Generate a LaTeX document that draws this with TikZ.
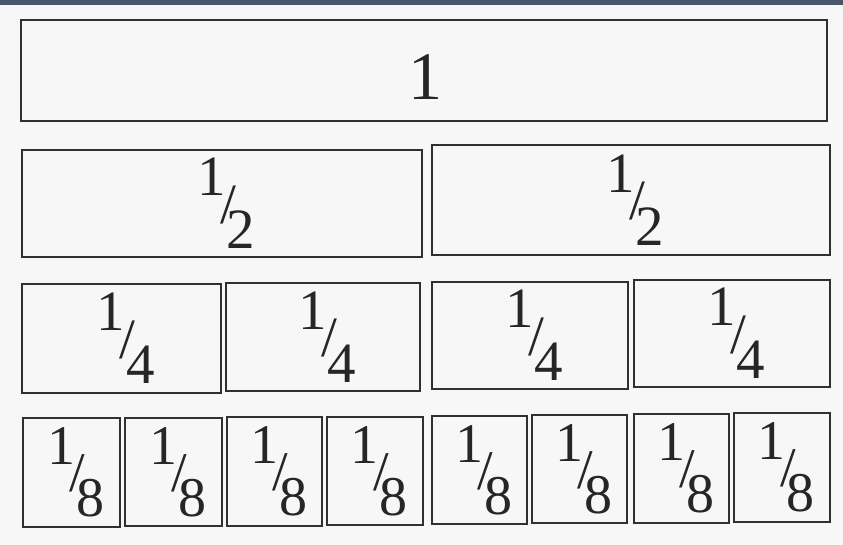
\documentclass[tikz,border=0pt]{standalone}
\usepackage{fontspec}
\setmainfont{Liberation Serif}
\newcommand{\nfr}[2]{\raisebox{0.93em}{#1}\kern-0.1em\raisebox{0.45em}{/}\kern-0.16em#2\kern-0.15em}
\newcommand{\fbx}[7]{\node[bar,minimum width={#4-#2},minimum height={#5-#3}] (#1) at ({(#2+#4)/2},{(#3+#5)/2}) {#6#7};}
\definecolor{topbar}{RGB}{74,86,106}
\definecolor{ink}{RGB}{38,38,38}
\definecolor{edge}{RGB}{48,48,48}
\begin{document}
\begin{tikzpicture}[x=1pt,y=-1pt,
  bar/.style={draw=edge,line width=2.6pt,inner sep=0pt,text=ink},
]
\fill[white!97!black] (0,0) rectangle (843,545);
\useasboundingbox (0,0) rectangle (843,545);
\fill[topbar] (0,0) rectangle (843,5);
% row 1
\fbx{w}{21}{20}{827}{121}{}{}
\node[text=ink,inner sep=0pt,font=\fontsize{68}{68}\selectfont] (wl) at (425,77) {1};
% row 2
\fbx{h1}{22}{150}{422}{257}{\fontsize{57}{57}\selectfont}{\nfr12}
\fbx{h2}{432}{145}{830}{255}{\fontsize{57}{57}\selectfont}{\nfr12}
% row 3
\fbx{q1}{22}{284}{221}{393}{\fontsize{57}{57}\selectfont}{\nfr14}
\fbx{q2}{226}{283}{420}{391}{\fontsize{57}{57}\selectfont}{\nfr14}
\fbx{q3}{432}{282}{628}{389}{\fontsize{57}{57}\selectfont}{\nfr14}
\fbx{q4}{634}{280}{830}{387}{\fontsize{57}{57}\selectfont}{\nfr14}
% row 4
\fbx{e1}{23}{418}{120}{527}{\fontsize{56}{56}\selectfont}{\nfr18}
\fbx{e2}{125}{418}{222}{526}{\fontsize{56}{56}\selectfont}{\nfr18}
\fbx{e3}{227}{417}{322}{526}{\fontsize{56}{56}\selectfont}{\nfr18}
\fbx{e4}{327}{417}{423}{525}{\fontsize{56}{56}\selectfont}{\nfr18}
\fbx{e5}{432}{416}{527}{524}{\fontsize{56}{56}\selectfont}{\nfr18}
\fbx{e6}{532}{415}{627}{523}{\fontsize{56}{56}\selectfont}{\nfr18}
\fbx{e7}{634}{414}{729}{523}{\fontsize{56}{56}\selectfont}{\nfr18}
\fbx{e8}{734}{413}{830}{522}{\fontsize{56}{56}\selectfont}{\nfr18}
\end{tikzpicture}
\end{document}
